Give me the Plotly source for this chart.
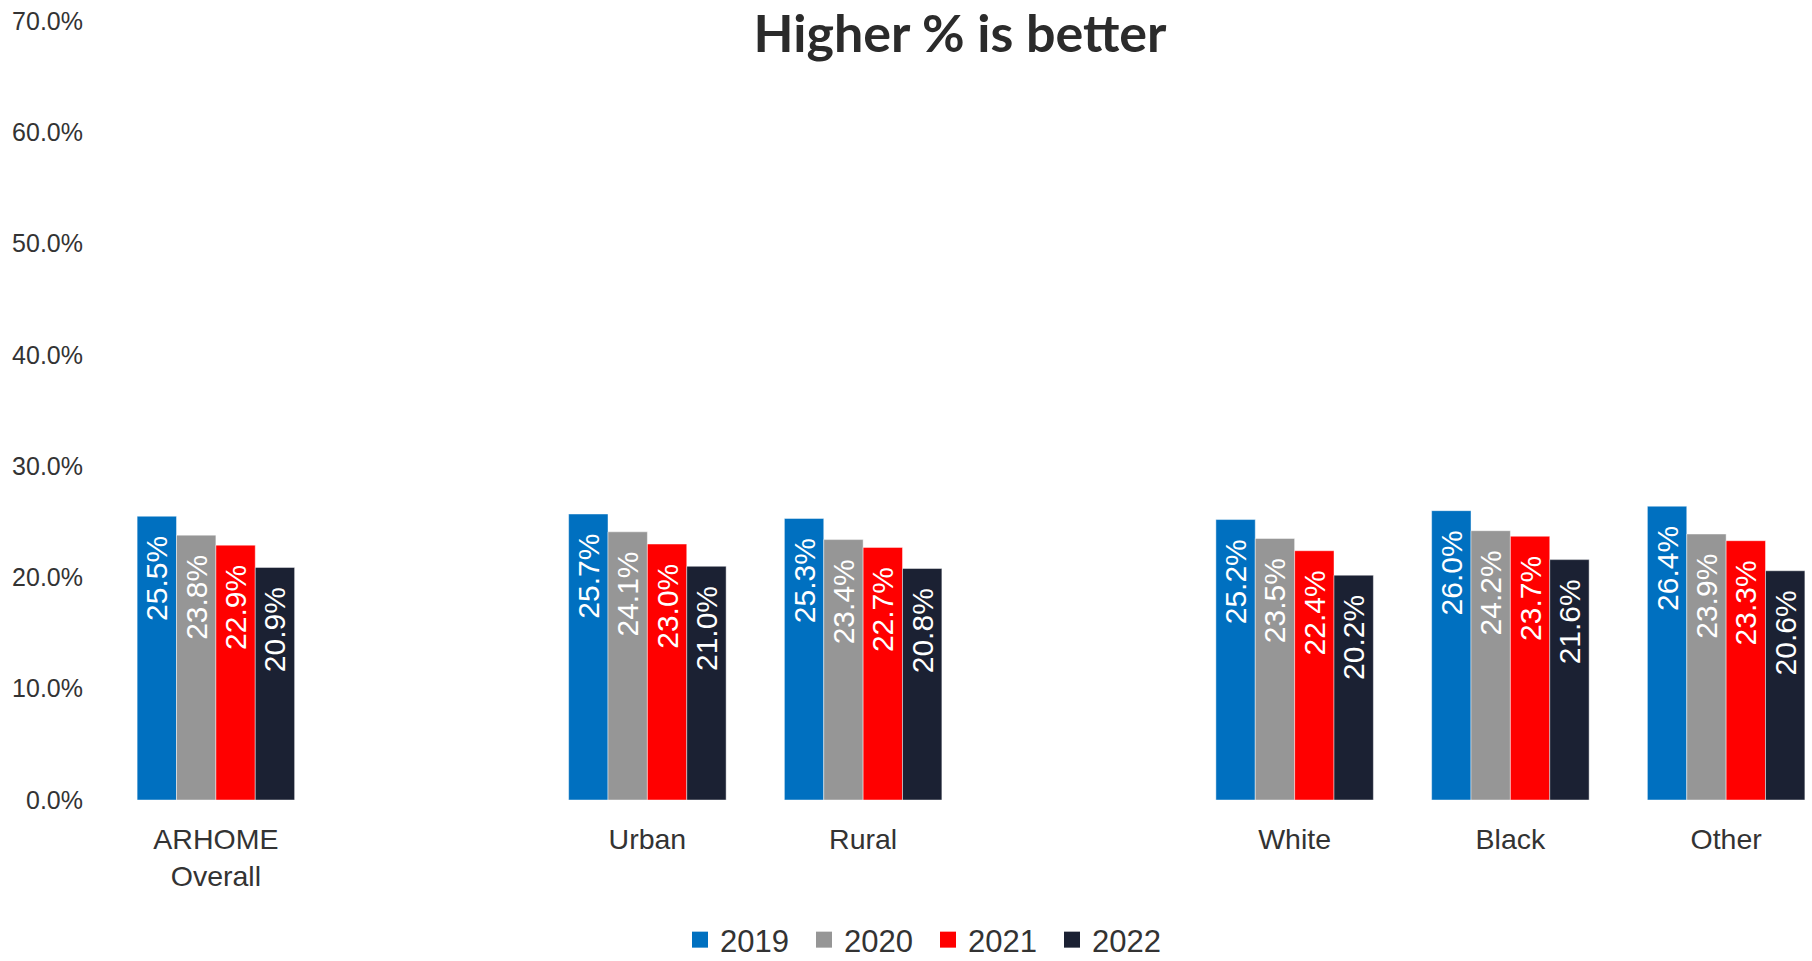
import plotly.graph_objects as go

categories = ["ARHOME<br>Overall", " ", "Urban", "Rural", "  ", "White", "Black", "Other"]
years = ["2019", "2020", "2021", "2022"]
values = {
    "2019": [25.5, None, 25.7, 25.3, None, 25.2, 26.0, 26.4],
    "2020": [23.8, None, 24.1, 23.4, None, 23.5, 24.2, 23.9],
    "2021": [22.9, None, 23.0, 22.7, None, 22.4, 23.7, 23.3],
    "2022": [20.9, None, 21.0, 20.8, None, 20.2, 21.6, 20.6],
}
colors = {"2019": "#0070C0", "2020": "#969696", "2021": "#FF0000", "2022": "#1B2133"}
y_ticks = [0, 10, 20, 30, 40, 50, 60, 70]

W, H = 1812, 961
ml, mr, mt, mb = 108, 0, 21, 161
pw, ph = W - ml - mr, H - mt - mb

fig = go.Figure()
for yr in years:
    vals = [None if v is None else v / 100 for v in values[yr]]
    txt = ["" if v is None else f"{v:.1f}%\u00a0\u00a0" for v in values[yr]]
    fig.add_trace(go.Bar(
        name=yr, x=categories, y=vals, text=txt,
        textposition="inside", insidetextanchor="end", textangle=-90,
        constraintext="none",
        textfont=dict(family="Liberation Sans, Arial, sans-serif", size=30, color="white"),
        marker=dict(color=colors[yr], line=dict(color="rgba(255,255,255,0.45)", width=1)),
        hoverinfo="skip", showlegend=False,
    ))
# legend entries (square swatches)
for yr in years:
    fig.add_trace(go.Scatter(
        name=yr, x=[None], y=[None], mode="markers",
        marker=dict(symbol="square", size=16, color=colors[yr]),
        hoverinfo="skip", showlegend=True,
    ))

fig.update_layout(
    width=W, height=H,
    margin=dict(l=ml, r=mr, t=mt, b=mb, pad=0, autoexpand=False),
    paper_bgcolor="white", plot_bgcolor="white",
    barmode="group", bargap=0.27, bargroupgap=0,
    title=dict(text="<b>Higher % is better</b>", x=0.5, xref="paper", xanchor="center",
               y=1 - 34 / H, yref="container", yanchor="middle",
               font=dict(family="Lato, Open Sans, sans-serif", size=52, color="#2B2B2B")),
    font=dict(family="Liberation Sans, Arial, sans-serif", color="#333333"),
    showlegend=True,
    legend=dict(orientation="h", x=(928 - ml) / pw, xanchor="center",
                y=(mt + ph - 967) / ph, yanchor="bottom",
                font=dict(size=31, color="#333333"), traceorder="normal",
                entrywidth=79, entrywidthmode="pixels", itemwidth=30),
    xaxis=dict(type="category", categoryorder="array", categoryarray=categories,
               range=[-0.5, 7.398], showgrid=False, showline=False, zeroline=False,
               automargin=False,
               ticks="", tickfont=dict(size=28.5, color="#333333"), ticklabelstandoff=19),
    yaxis=dict(range=[0, 0.7], tickvals=[t / 100 for t in y_ticks],
               ticktext=[f"{t:.1f}%" for t in y_ticks],
               showgrid=False, showline=False, zeroline=False, ticks="",
               automargin=False,
               tickfont=dict(size=25, color="#333333"), ticklabelstandoff=24),
)

fig.write_html("out.html", config={"displayModeBar": False},
               post_script="document.body.style.margin='0';")
